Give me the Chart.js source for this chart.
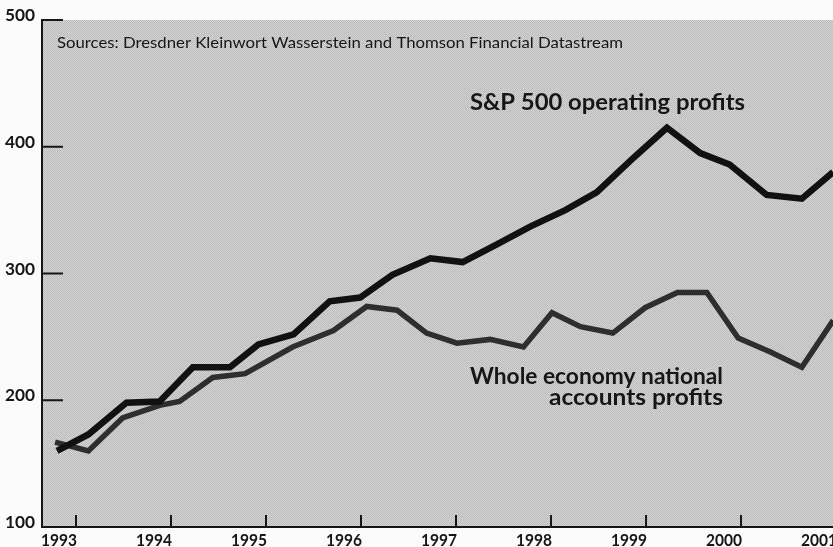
<!DOCTYPE html>
<html>
<head>
<meta charset="utf-8">
<script src="https://cdn.jsdelivr.net/npm/chart.js@4"></script>
<style>
  body { margin: 0; background: #fff; }
  #wrap { width: 833px; height: 547px; }
</style>
</head>
<body>
<div id="wrap"><canvas id="profitChart" width="833" height="547"></canvas></div>
<script>
// S&P 500 operating profits
const spYears  = [1992.80, 1993.13, 1993.53, 1993.88, 1994.23, 1994.62, 1994.92, 1995.29, 1995.67, 1995.99, 1996.33, 1996.73,
                  1997.07, 1997.43, 1997.78, 1998.15, 1998.48, 1998.85, 1999.22, 1999.57, 1999.88, 2000.27, 2000.64, 2000.97];
const spValues = [160, 173, 198, 199, 226, 226, 244, 252, 278, 281, 299, 312,
                  309, 323, 337, 350, 364, 390, 415, 395, 386, 362, 359, 380];

// Whole economy national accounts profits
const weYears  = [1992.78, 1993.13, 1993.49, 1993.88, 1994.09, 1994.44, 1994.78, 1995.28, 1995.71, 1996.06, 1996.38, 1996.69,
                  1997.01, 1997.36, 1997.71, 1998.01, 1998.31, 1998.65, 1998.99, 1999.33, 1999.64, 1999.97, 2000.31, 2000.64, 2000.97];
const weValues = [167, 160, 186, 196, 199, 218, 221, 242, 255, 274, 271, 253,
                  245, 248, 242, 269, 258, 253, 273, 285, 285, 249, 238, 226, 263];

// axes
const yearLabels = ['1993', '1994', '1995', '1996', '1997', '1998', '1999', '2000', '2001'];
const yTickValues = [100, 200, 300, 400, 500];

const FONT = 'Lato, "DejaVu Sans", sans-serif';
const INK = '#161616';

function toPoints(xs, ys) {
    return xs.map((x, i) => ({ x: x, y: ys[i] }));
}

// text squeezed/stretched to a given width
function fitText(ctx, text, x, y, width, align) {
    const w = ctx.measureText(text).width;
    ctx.save();
    const left = align === 'right' ? x - width : x;
    ctx.translate(left, y);
    ctx.scale(width / w, 1);
    ctx.textAlign = 'left';
    ctx.fillText(text, 0, 0);
    ctx.restore();
}

function makeGrain() {
    const c = document.createElement('canvas');
    c.width = 2; c.height = 2;
    const g = c.getContext('2d');
    g.fillStyle = '#d5d5d5';
    g.fillRect(0, 0, 2, 2);
    g.fillStyle = '#bababa';
    g.fillRect(0, 0, 1, 1);
    g.fillRect(1, 1, 1, 1);
    return c;
}

const paperPlugin = {
    id: 'paper',
    beforeDraw(chart) {
        const { ctx, chartArea: a } = chart;
        ctx.save();
        ctx.fillStyle = '#fbfbfb';
        ctx.fillRect(0, 0, chart.width, chart.height);
        ctx.fillStyle = ctx.createPattern(makeGrain(), 'repeat');
        ctx.fillRect(a.left, a.top, a.right - a.left, a.bottom - a.top);
        ctx.restore();
    }
};

const decorPlugin = {
    id: 'decor',
    afterDraw(chart) {
        const { ctx, chartArea: a } = chart;
        const xs = chart.scales.x, ys = chart.scales.y;
        ctx.save();
        ctx.strokeStyle = INK;
        ctx.fillStyle = INK;
        ctx.lineWidth = 2;

        // y ticks, drawn inwards, labels sitting on the tick
        ctx.font = 'bold 17px ' + FONT;
        ctx.textBaseline = 'alphabetic';
        yTickValues.forEach(v => {
            const py = ys.getPixelForValue(v);
            ctx.beginPath();
            ctx.moveTo(a.left, py);
            ctx.lineTo(a.left + 21, py);
            ctx.stroke();
            fitText(ctx, String(v), 35, py + 1, 30, 'right');
        });

        // x ticks upwards, labels ending at the tick
        yearLabels.forEach(lbl => {
            const px = xs.getPixelForValue(Number(lbl));
            ctx.beginPath();
            ctx.moveTo(px, a.bottom);
            ctx.lineTo(px, a.bottom - 12);
            ctx.stroke();
            fitText(ctx, lbl, px + 1, 546, 36, 'right');
        });

        // notes
        ctx.font = '16px ' + FONT;
        fitText(ctx, 'Sources: Dresdner Kleinwort Wasserstein and Thomson Financial Datastream', 57, 48, 566, 'left');

        ctx.font = 'bold 23px ' + FONT;
        fitText(ctx, 'S&P 500 operating profits', 470, 110, 275, 'left');
        fitText(ctx, 'Whole economy national', 470, 384, 253, 'left');
        fitText(ctx, 'accounts profits', 723, 405, 174, 'right');
        ctx.restore();
    }
};

new Chart(document.getElementById('profitChart'), {
    type: 'line',
    data: {
        datasets: [{
            label: 'S&P 500 operating profits',
            data: toPoints(spYears, spValues),
            borderColor: '#111111',
            borderWidth: 6.5,
            borderJoinStyle: 'miter',
            pointRadius: 0,
            tension: 0
        }, {
            label: 'Whole economy national accounts profits',
            data: toPoints(weYears, weValues),
            borderColor: '#2e2e2e',
            borderWidth: 5.5,
            borderJoinStyle: 'miter',
            pointRadius: 0,
            tension: 0
        }]
    },
    options: {
        responsive: false,
        animation: false,
        layout: { padding: { top: 20, right: 0, left: 0, bottom: 0 } },
        scales: {
            x: {
                type: 'linear',
                min: 1992.642,
                max: 2000.968,
                grid: { display: false },
                border: { display: true, color: INK, width: 2 },
                ticks: { display: false },
                afterFit(scale) { scale.height = 20; }
            },
            y: {
                min: 100,
                max: 500,
                grid: { display: false },
                border: { display: true, color: INK, width: 2 },
                ticks: { display: false },
                afterFit(scale) { scale.width = 42; }
            }
        },
        plugins: {
            legend: { display: false },
            tooltip: { enabled: false }
        }
    },
    plugins: [paperPlugin, decorPlugin]
});
</script>
</body>
</html>
